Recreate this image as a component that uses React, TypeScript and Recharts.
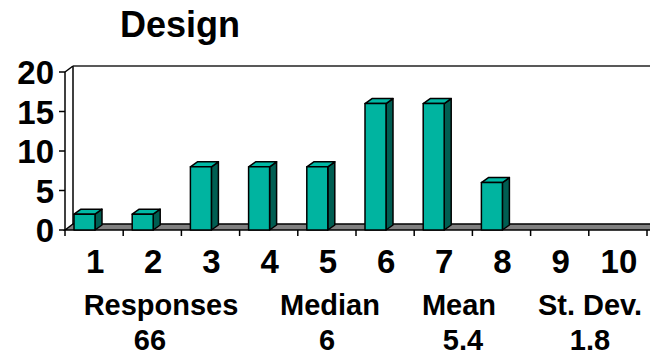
import React from 'react';
import { BarChart, Bar, XAxis, YAxis, ReferenceArea } from 'recharts';

// Rating scale and number of responses for each score
const categories = ['1', '2', '3', '4', '5', '6', '7', '8', '9', '10'];
const responses = [2, 2, 8, 8, 8, 16, 16, 6, 0, 0];
const yTicks = [0, 5, 10, 15, 20];

// Summary statistics printed under the chart
const title = 'Design';
const statLabels = ['Responses', 'Median', 'Mean', 'St. Dev.'];
const statValues = ['66', '6', '5.4', '1.8'];

const data = categories.map((score, i) => ({ score, count: responses[i] }));

const W = 650;
const H = 356;
const PLOT_LEFT = 65;
const PLOT_RIGHT = 647;
const PLOT_TOP = 72;
const PLOT_BOTTOM = 230;
const BAND = (PLOT_RIGHT - PLOT_LEFT) / categories.length;

// depth of the room (back wall / floor) and of the columns
const ROOM_DX = 8;
const ROOM_DY = 6;
const BAR_DX = 7;
const BAR_DY = 5;

const FONT = '"Liberation Sans", Arial, Helvetica, sans-serif';
const FRONT = '#00B4A0';
const SIDE = '#005E52';
const TOP = '#00B9A5';

// Floor, back wall outline and front value axis
const Room = (props: any) => {
  const { x, y, width, height } = props;
  const x0 = x;
  const y0 = y + height;
  const right = x + width + 40;
  return (
    <g>
      <polygon
        points={`${x0},${y0} ${x0 + ROOM_DX},${y0 - ROOM_DY} ${right},${y0 - ROOM_DY} ${right},${y0}`}
        fill="#808080"
        stroke="#000"
        strokeWidth={1.5}
      />
      <line x1={x0 + ROOM_DX} y1={y0 - ROOM_DY} x2={x0 + ROOM_DX} y2={y - ROOM_DY} stroke="#000" strokeWidth={1.5} />
      <line x1={x0 + ROOM_DX} y1={y - ROOM_DY} x2={right} y2={y - ROOM_DY} stroke="#222" strokeWidth={1.5} />
      <line x1={x0} y1={y} x2={x0 + ROOM_DX} y2={y - ROOM_DY} stroke="#000" strokeWidth={1.5} />
      <line x1={x0} y1={y} x2={x0} y2={y0} stroke="#000" strokeWidth={1.5} />
    </g>
  );
};

// 3D column: front face, right side and top
const Column = (props: any) => {
  const { x, y, width, height } = props;
  if (!height || height <= 0) return null;
  const fx = x - 10;
  const r = fx + width;
  const b = y + height;
  return (
    <g stroke="#000" strokeWidth={1.5} strokeLinejoin="round">
      <polygon points={`${r},${y} ${r + BAR_DX},${y - BAR_DY} ${r + BAR_DX},${b - BAR_DY} ${r},${b}`} fill={SIDE} />
      <polygon points={`${fx},${y} ${fx + BAR_DX},${y - BAR_DY} ${r + BAR_DX},${y - BAR_DY} ${r},${y}`} fill={TOP} />
      <rect x={fx} y={y} width={width} height={height} fill={FRONT} />
    </g>
  );
};

const YTick = (props: any) => {
  const { y, payload } = props;
  return (
    <g>
      <line x1={PLOT_LEFT - 6} x2={PLOT_LEFT} y1={y} y2={y} stroke="#000" strokeWidth={1.5} />
      <text
        x={PLOT_LEFT - 11}
        y={y + 12}
        textAnchor="end"
        fontFamily={FONT}
        fontWeight="bold"
        fontSize={33}
        fill="#000"
      >
        {payload.value}
      </text>
    </g>
  );
};

const XTick = (props: any) => {
  const { x, payload, index } = props;
  const left = x - BAND / 2;
  const last = index === categories.length - 1;
  return (
    <g>
      <line x1={left} x2={left} y1={PLOT_BOTTOM} y2={PLOT_BOTTOM + 6} stroke="#000" strokeWidth={1.5} />
      {last && (
        <line x1={left + BAND} x2={left + BAND} y1={PLOT_BOTTOM} y2={PLOT_BOTTOM + 6} stroke="#000" strokeWidth={1.5} />
      )}
      <text
        x={x + 1}
        y={273}
        textAnchor="middle"
        fontFamily={FONT}
        fontWeight="bold"
        fontSize={33}
        fill="#000"
      >
        {payload.value}
      </text>
    </g>
  );
};

const labelCenters = [161, 330, 459, 590];
const valueCenters = [150, 327, 463, 590];

export default function App() {
  return (
    <div style={{ position: 'relative', width: W, height: H, background: '#fff' }}>
      <style>{'body{margin:0}'}</style>
      <BarChart
        width={W}
        height={H}
        data={data}
        margin={{ top: PLOT_TOP, right: W - PLOT_RIGHT, bottom: 86, left: 0 }}
        barCategoryGap={0}
      >
        <XAxis
          dataKey="score"
          height={40}
          axisLine={false}
          tickLine={false}
          interval={0}
          tick={<XTick />}
        />
        <YAxis
          width={PLOT_LEFT}
          domain={[0, 20]}
          ticks={yTicks}
          axisLine={false}
          tickLine={false}
          tick={<YTick />}
        />
        <ReferenceArea y1={0} y2={20} shape={<Room />} fill="none" />
        <Bar dataKey="count" barSize={21} shape={<Column />} isAnimationActive={false} />
      </BarChart>
      <svg width={W} height={H} style={{ position: 'absolute', left: 0, top: 0, pointerEvents: 'none' }}>
        <text x={180} y={37} textAnchor="middle" fontFamily={FONT} fontWeight="bold" fontSize={36} fill="#000">
          {title}
        </text>
        {statLabels.map((s, i) => (
          <text key={s} x={labelCenters[i]} y={315} textAnchor="middle" fontFamily={FONT} fontWeight="bold" fontSize={29} fill="#000">
            {s}
          </text>
        ))}
        {statValues.map((s, i) => (
          <text key={s} x={valueCenters[i]} y={350} textAnchor="middle" fontFamily={FONT} fontWeight="bold" fontSize={29} fill="#000">
            {s}
          </text>
        ))}
      </svg>
    </div>
  );
}
